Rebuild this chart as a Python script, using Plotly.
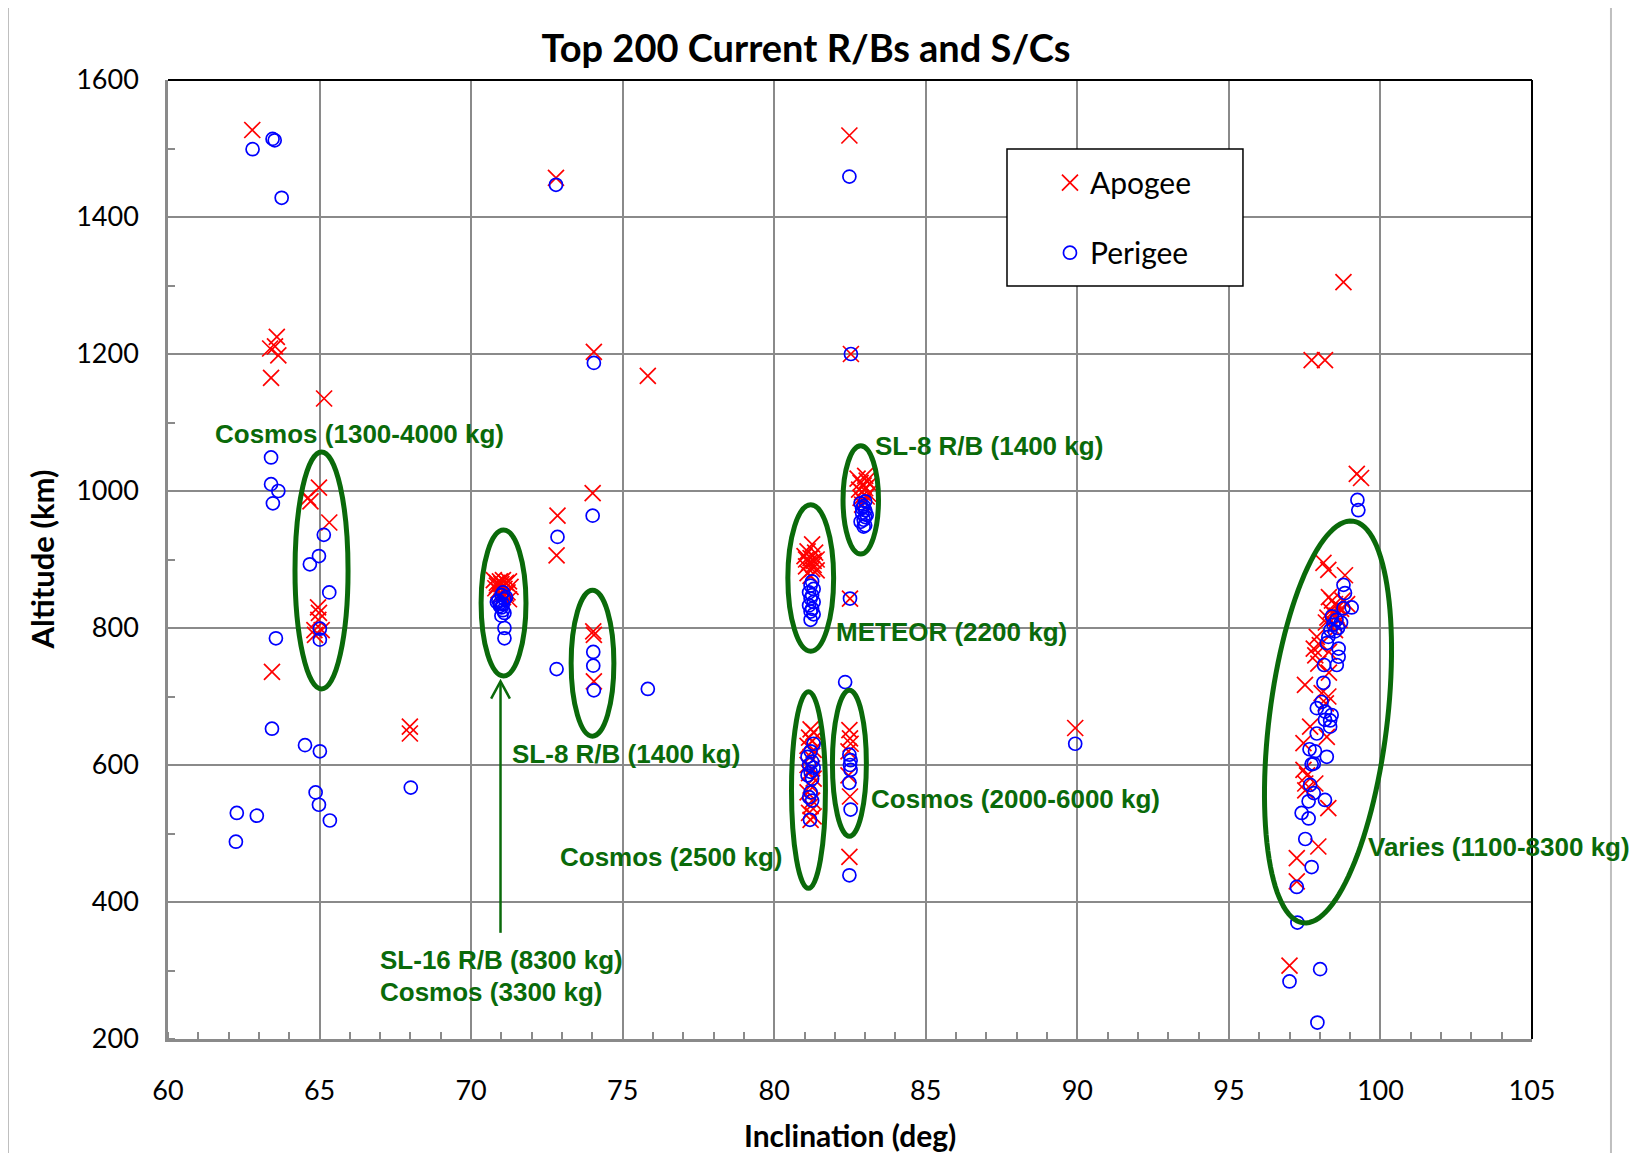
import numpy as np
import plotly.graph_objects as go

# ---------------- data ----------------
apogee_inc = [
    62.78, 63.59, 63.37, 63.53, 63.64, 63.40, 65.15, 64.98, 64.62, 64.70, 65.32,
    64.95, 64.98, 64.96, 64.83, 65.07, 64.85, 63.43, 67.98, 67.98,
    72.80, 74.05, 75.83, 74.01, 72.85, 72.82, 74.03, 74.05, 74.05,
    70.75, 70.85, 70.95, 71.05, 71.15, 71.25, 71.30, 70.80, 70.90, 71.00, 71.10,
    71.20, 70.95, 71.05, 71.15, 71.25, 70.85, 71.00,
    82.48, 82.53,
    82.75, 82.85, 82.95, 83.05, 83.15, 82.80, 82.90, 83.00, 83.10, 82.85, 82.95,
    83.05, 82.90, 83.00,
    81.25, 81.10, 81.35, 81.00, 81.20, 81.40, 81.15, 81.30, 81.05, 81.25, 81.40,
    81.10, 81.20, 81.30, 81.05,
    82.50,
    81.20, 81.30, 81.15, 81.25, 81.10, 81.30, 81.20, 81.10, 81.25, 81.15, 81.30,
    81.20, 81.10, 81.25, 81.20, 81.15, 81.30, 81.20,
    82.48, 82.50, 82.52, 82.45, 82.45, 82.50, 82.48, 89.93,
    98.78, 97.73, 98.17, 99.22, 99.36, 98.12, 98.28, 98.83,
    98.30, 98.40, 98.50, 98.60, 98.70, 98.35, 98.45, 98.55, 98.25, 98.65, 98.20,
    98.50, 98.75, 98.90,
    98.50, 97.90, 97.95, 98.30, 97.80, 97.85, 98.00, 98.30,
    97.51, 98.06, 98.28, 98.20, 97.68, 98.23, 97.46,
    97.46, 97.58, 97.52, 97.85, 97.52, 98.28, 97.95, 97.24, 97.24, 97.00,
]
apogee_alt = [
    1527, 1225, 1208, 1211, 1198, 1165, 1135, 1005, 990, 985, 954,
    830, 822, 812, 797, 797, 790, 736, 656, 646,
    1457, 1203, 1168, 997, 964, 906, 795, 790, 722,
    870, 866, 868, 870, 866, 868, 860, 858, 855, 860, 857,
    852, 848, 845, 850, 842, 862, 864,
    1519, 1200,
    1018, 1012, 1008, 1015, 1010, 1002, 998, 1004, 996, 990, 985,
    992, 980, 1022,
    922, 912, 910, 905, 902, 900, 895, 892, 890, 886, 884,
    880, 876, 898, 900,
    843,
    652, 648, 640, 635, 628, 622, 612, 600, 595, 588, 580,
    570, 560, 548, 540, 530, 525, 520,
    651, 639, 631, 620, 585, 554, 466, 654,
    1305, 1191, 1191, 1025, 1019, 895, 885, 877,
    845, 840, 835, 830, 828, 825, 820, 818, 815, 812, 808,
    805, 840, 835,
    797, 787, 748, 735, 770, 760, 775, 765,
    717, 705, 700, 690, 656, 641, 632,
    593, 585, 573, 573, 563, 537, 481, 464, 430, 307,
]
perigee_inc = [
    62.79, 63.45, 63.52, 63.75, 63.40, 63.40, 63.64, 63.46, 65.14, 64.98, 64.68,
    65.32, 65.01, 65.01, 63.56, 63.43, 64.52, 65.01, 68.01, 64.87, 64.98, 65.34,
    62.27, 62.93, 62.24,
    72.80, 74.05, 74.01, 72.85, 74.03, 74.03, 74.05, 75.83, 72.82,
    70.90, 71.00, 71.05, 70.95, 71.10, 71.00, 71.05, 70.95, 71.10, 71.00, 71.05,
    70.85, 71.15, 71.10, 71.10,
    82.48, 82.53,
    82.85, 82.95, 83.00, 82.90, 83.00, 82.95, 82.85, 83.00, 82.95, 83.05, 82.90, 83.00,
    81.25, 81.20, 81.30, 81.15, 81.25, 81.20, 81.30, 81.15, 81.25, 81.20, 81.30, 81.20,
    82.50, 82.34,
    81.30, 81.20, 81.10, 81.25, 81.15, 81.30, 81.20, 81.10, 81.25, 81.20, 81.15,
    81.25, 81.18,
    82.48, 82.52, 82.50, 82.52, 82.48, 82.52, 82.48, 89.93,
    99.24, 99.27, 98.78, 98.83, 99.05, 98.78,
    98.40, 98.55, 98.70, 98.45, 98.60, 98.35, 98.50,
    98.28, 98.23, 98.62, 98.62, 98.56, 98.14,
    98.12, 98.06, 97.90, 98.17, 98.39, 98.17, 98.34, 98.34, 97.90,
    97.66, 97.84, 98.23, 97.73, 97.80,
    97.68, 97.80, 97.63, 98.17, 97.40, 97.63, 97.52, 97.73, 97.24, 97.26, 97.00,
    98.01, 97.92,
]
perigee_alt = [
    1499, 1514, 1512, 1428, 1049, 1010, 1000, 982, 936, 905, 893,
    852, 799, 783, 785, 653, 629, 620, 567, 560, 542, 519,
    530, 526, 488,
    1447, 1187, 964, 933, 765, 745, 709, 711, 740,
    840, 848, 852, 836, 842, 830, 826, 832, 822, 818, 835,
    838, 845, 800, 785,
    1459, 1200,
    982, 978, 972, 968, 962, 958, 955, 950, 948, 965, 975, 985,
    868, 862, 857, 852, 848, 843, 838, 833, 828, 824, 820, 812,
    843, 721,
    631, 620, 612, 605, 600, 596, 590, 585, 580, 560, 553,
    548, 520,
    615, 607, 600, 593, 574, 535, 439, 631,
    987, 972, 863, 851, 830, 829,
    817, 812, 808, 805, 800, 797, 795,
    787, 778, 770, 758, 746, 746,
    720, 692, 683, 678, 673, 666, 665, 656, 646,
    623, 620, 612, 601, 602,
    571, 559, 547, 549, 530, 522, 492, 451, 422, 370, 284,
    302, 224,
]

x_ticks = [60, 65, 70, 75, 80, 85, 90, 95, 100, 105]
y_ticks = [200, 400, 600, 800, 1000, 1200, 1400, 1600]

GREEN = "#0A6A0A"
GRID = "#8A8A8A"

fig = go.Figure()
fig.add_trace(go.Scatter(
    x=apogee_inc, y=apogee_alt, mode="markers", name="Apogee",
    legendgroup="a",
    marker=dict(symbol="x-thin-open", size=16, color="#FF0000",
                line=dict(color="#FF0000", width=1.7)),
))
fig.add_trace(go.Scatter(
    x=perigee_inc, y=perigee_alt, mode="markers", name="Perigee",
    legendgroup="p",
    marker=dict(symbol="circle-open", size=13, color="#0000FF",
                line=dict(color="#0000FF", width=1.7)),
))

# ---------------- highlight ellipses ----------------
ellipses = [
    (64.19, 65.94, 711, 1057),   # Cosmos 1300-4000
    (70.33, 71.81, 730, 943),    # SL-16 / Cosmos 3300
    (73.30, 74.71, 642, 855),    # SL-8 74
    (80.45, 81.96, 766, 980),    # METEOR
    (82.27, 83.44, 908, 1066),   # SL-8 83
    (80.57, 81.69, 420, 707),    # Cosmos 2500
    (81.92, 83.04, 496, 709),    # Cosmos 2000-6000
]
shapes = []
for x0, x1, y0, y1 in ellipses:
    shapes.append(dict(type="circle", xref="x", yref="y", x0=x0, x1=x1, y0=y0, y1=y1,
                       line=dict(color=GREEN, width=5), layer="above"))

# tilted ellipse (Varies)
cx, cy = 98.27, 662.8
A = (0.822, 293.2)
B = (1.928, -10.58)
t = np.linspace(0, 2 * np.pi, 121)
ex = cx + np.cos(t) * A[0] + np.sin(t) * B[0]
ey = cy + np.cos(t) * A[1] + np.sin(t) * B[1]
path = "M " + " L ".join(f"{a:.4f},{b:.2f}" for a, b in zip(ex, ey)) + " Z"
shapes.append(dict(type="path", xref="x", yref="y", path=path,
                   line=dict(color=GREEN, width=5), layer="above"))

# arrow (SL-16)
shapes.append(dict(type="line", xref="x", yref="y", x0=70.97, x1=70.97, y0=355, y1=720,
                   line=dict(color=GREEN, width=2.5), layer="above"))
shapes.append(dict(type="path", xref="x", yref="y",
                   path="M 70.66,697 L 70.97,722 L 71.28,697",
                   line=dict(color=GREEN, width=2.5), layer="above"))

# plot border top/right (black)
shapes.append(dict(type="line", xref="paper", yref="paper", x0=0, x1=1, y0=1, y1=1,
                   line=dict(color="black", width=2), layer="above"))
shapes.append(dict(type="line", xref="paper", yref="paper", x0=1, x1=1, y0=0, y1=1,
                   line=dict(color="black", width=2), layer="above"))
# outer chart frame
shapes.append(dict(type="rect", xref="paper", yref="paper",
                   x0=-0.1173, x1=1.0579, y0=-0.14, y1=1.0792,
                   line=dict(color="#BFBFBF", width=2), layer="below"))
# legend box
shapes.append(dict(type="rect", xref="paper", yref="paper",
                   x0=0.6151, x1=0.7881, y0=0.7852, y1=0.9281,
                   fillcolor="white", line=dict(color="black", width=1.5), layer="above"))

# ---------------- text annotations ----------------
lab_font = dict(family="Liberation Sans", size=26, color=GREEN, weight="bold")
labels = [
    ("Cosmos (1300-4000 kg)", 61.48, 1083, "left"),
    ("SL-8 R/B (1400 kg)", 83.25, 1065, "left"),
    ("METEOR (2200 kg)", 81.98, 794, "left"),
    ("SL-8 R/B (1400 kg)", 71.29, 616, "left"),
    ("Cosmos (2000-6000 kg)", 83.13, 550, "left"),
    ("Cosmos (2500 kg)", 80.36, 466, "right"),
    ("Varies (1100-8300 kg)", 99.51, 481, "left"),
    ("SL-16 R/B (8300 kg)", 66.94, 315, "left"),
    ("Cosmos (3300 kg)", 66.94, 269, "left"),
]
annotations = []
for txt, x, y, anc in labels:
    annotations.append(dict(text=txt, x=x, y=y, xref="x", yref="y", xanchor=anc,
                            yanchor="middle", showarrow=False, font=lab_font))

axis_font = dict(family="Lato", size=31, color="black", weight="bold")
annotations.append(dict(text="Altitude (km)", xref="paper", yref="paper", x=-0.0924, y=0.5,
                        textangle=-90, showarrow=False, font=axis_font,
                        xanchor="center", yanchor="middle"))
annotations.append(dict(text="Inclination (deg)", xref="paper", yref="paper", x=0.5, y=-0.1001,
                        showarrow=False, font=dict(family="Lato", size=30, color="black",
                                                   weight="bold"),
                        xanchor="center", yanchor="middle"))

# the page body adds an 8 px offset, so the figure is 8 px smaller on each side
W, H = 1623, 1145
fig.update_layout(
    width=W, height=H,
    margin=dict(l=160, r=99, t=72, b=114),
    paper_bgcolor="white", plot_bgcolor="white",
    title=dict(text="Top 200 Current R/Bs and S/Cs", x=798 / W, y=1 - 41 / H,
               xref="container", yref="container", xanchor="center", yanchor="middle",
               font=dict(family="Lato", size=38, color="black", weight="bold")),
    shapes=shapes,
    annotations=annotations,
    showlegend=True,
    legend=dict(x=0.6466, y=0.920, xanchor="left", yanchor="top",
                bgcolor="rgba(0,0,0,0)", borderwidth=0,
                traceorder="grouped", tracegroupgap=28,
                font=dict(family="Lato", size=30, color="black")),
)
fig.update_xaxes(
    range=[60, 105], tickvals=x_ticks, ticktext=[str(v) for v in x_ticks],
    showgrid=True, gridcolor=GRID, gridwidth=2,
    showline=True, linecolor=GRID, linewidth=2.5, mirror=False,
    ticks="", zeroline=False, ticklabelstandoff=26,
    tickfont=dict(family="Lato", size=27, color="black"),
    minor=dict(dtick=1, tick0=60, ticks="inside", ticklen=7, tickcolor=GRID, tickwidth=2,
               showgrid=False),
)
fig.update_yaxes(
    range=[200, 1600], tickvals=y_ticks, ticktext=[str(v) for v in y_ticks],
    showgrid=True, gridcolor=GRID, gridwidth=2,
    showline=True, linecolor=GRID, linewidth=2.5, mirror=False,
    ticks="", zeroline=False, ticklabelstandoff=21,
    tickfont=dict(family="Lato", size=27, color="black"),
    minor=dict(dtick=100, tick0=200, ticks="inside", ticklen=7, tickcolor=GRID, tickwidth=2,
               showgrid=False),
)

fig.write_html("out.html")
